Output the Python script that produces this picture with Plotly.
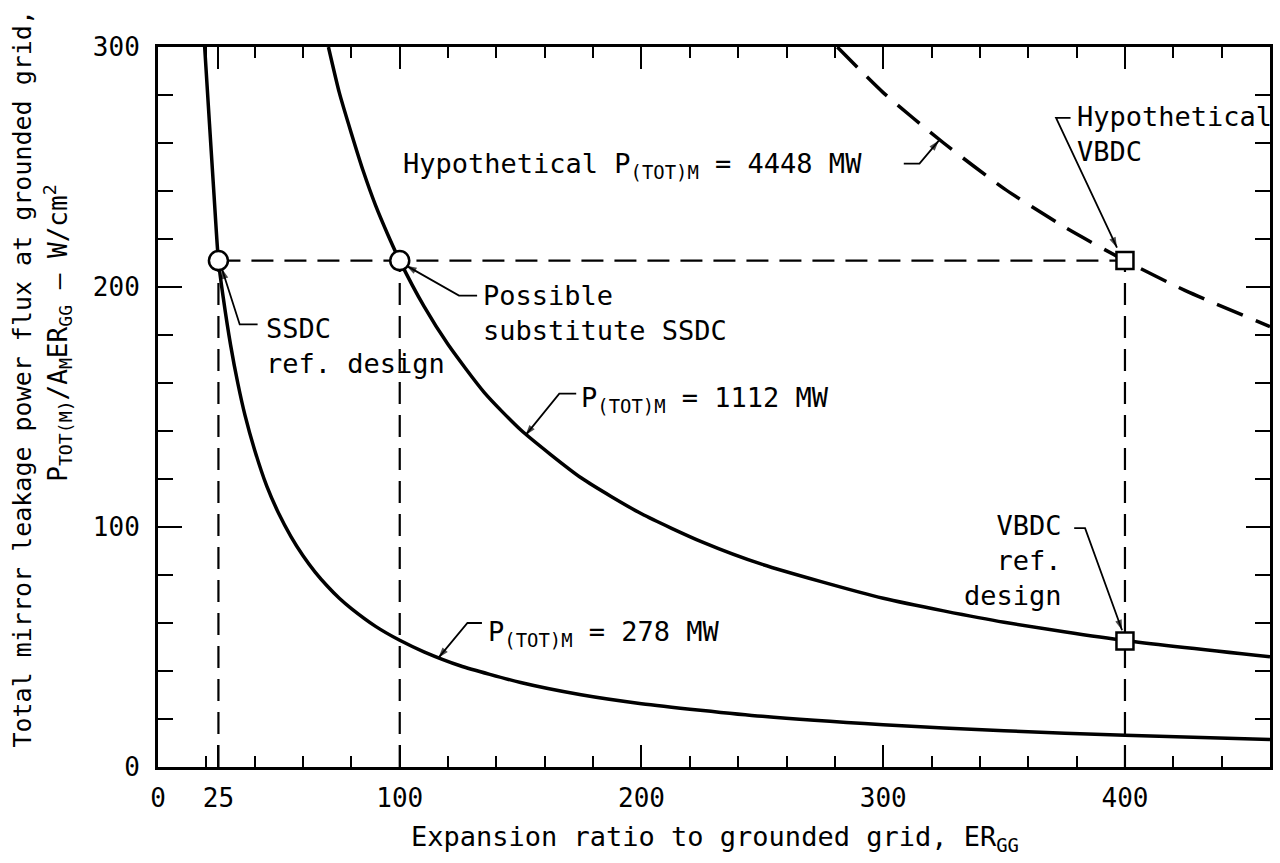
import plotly.graph_objects as go

# ---------------- data ----------------
# P(TOT)M = 278 MW curve
er_278 = [19.3, 21.3, 23.2, 25, 27, 30, 33, 36, 40, 45, 50, 55, 60, 65, 70, 75, 80, 90,
          100, 110, 125, 150, 175, 200, 250, 300, 350, 400, 460]
flux_278 = [300, 268, 238, 211, 195.5, 176, 160, 146.5, 132, 117, 105.5, 96, 88, 81.2,
            75.4, 70.3, 66, 58.6, 52.8, 48, 42.2, 35.2, 30.1, 26.4, 21.1, 17.6, 15.1,
            13.2, 11.5]

# P(TOT)M = 1112 MW curve
er_1112 = [70.5, 75, 80, 85, 90, 95, 100, 110, 120, 135, 150, 175, 200, 225, 250, 300,
           350, 400, 460]
flux_1112 = [300, 281, 264, 248, 234, 222, 211, 192, 176, 156, 140.5, 120.5, 105.5, 93.8,
             84.4, 70.3, 60.3, 52.7, 45.9]

# Hypothetical P(TOT)M = 4448 MW curve
er_4448 = [281, 300, 325, 350, 375, 400, 425, 460]
flux_4448 = [300, 281, 260, 241, 225, 211, 198.5, 183.5]

# design points
design_flux = 211
ssdc_er = [25, 100]
ssdc_flux = [211, 211]
vbdc_er = [400, 400]
vbdc_flux = [211, 52.5]

x_tickvals = [0, 25, 100, 200, 300, 400]
x_ticktext = ["0", "25", "100", "200", "300", "400"]
y_tickvals = [0, 100, 200, 300]
y_ticktext = ["0", "100", "200", "300"]

FONT = "DejaVu Sans Mono"
BLACK = "black"

fig = go.Figure()

# dashed reference lines
fig.add_trace(go.Scatter(
    x=[ssdc_er[0], vbdc_er[0]], y=[design_flux, design_flux], mode="lines",
    line=dict(color=BLACK, width=2.2, dash="22px,11px"), hoverinfo="skip"))
vx, vy = [], []
for e in [ssdc_er[0], ssdc_er[1], vbdc_er[0]]:
    vx += [e, e, None]
    vy += [0, design_flux, None]
fig.add_trace(go.Scatter(
    x=vx, y=vy, mode="lines",
    line=dict(color=BLACK, width=2.2, dash="22px,11px"), hoverinfo="skip"))

# curves
fig.add_trace(go.Scatter(x=er_278, y=flux_278, mode="lines",
                         line=dict(color=BLACK, width=3.5, shape="spline", smoothing=0.6)))
fig.add_trace(go.Scatter(x=er_1112, y=flux_1112, mode="lines",
                         line=dict(color=BLACK, width=3.5, shape="spline", smoothing=0.6)))
fig.add_trace(go.Scatter(x=er_4448, y=flux_4448, mode="lines",
                         line=dict(color=BLACK, width=3.5, shape="spline", smoothing=0.6,
                                   dash="28px,14px")))

# leader lines with arrowheads: stub end, corner, arrow tip
leaders = [
    [(41.2, 184.4), (33.8, 184.4), (26.4, 207.7)],
    [(132, 196.4), (124.5, 196.4), (102.7, 208.9)],
    [(173, 155.6), (166, 155.6), (152, 138.2)],
    [(134, 60), (128, 60), (116, 45.5)],
    [(308.5, 251.4), (315, 251.4), (323, 261)],
    [(377.5, 270.5), (371.5, 270.5), (396.7, 216.4)],
    [(379, 99.5), (383.5, 99.5), (398.8, 57)],
]
for pts in leaders:
    fig.add_trace(go.Scatter(
        x=[p[0] for p in pts], y=[p[1] for p in pts], mode="lines+markers",
        line=dict(color=BLACK, width=1.8),
        marker=dict(symbol="arrow", angleref="previous", size=[0, 0, 11], color=BLACK,
                    line=dict(width=0)),
        hoverinfo="skip"))

# markers
fig.add_trace(go.Scatter(x=ssdc_er, y=ssdc_flux, mode="markers",
                         marker=dict(symbol="circle", size=19, color="white",
                                     line=dict(color=BLACK, width=2.5))))
fig.add_trace(go.Scatter(x=vbdc_er, y=vbdc_flux, mode="markers",
                         marker=dict(symbol="square", size=17, color="white",
                                     line=dict(color=BLACK, width=2.5))))

afont = dict(family=FONT, size=27, color=BLACK)

texts = [
    dict(text="SSDC<br>ref. design", x=44, y=175.6, xanchor="left", yanchor="middle", align="left"),
    dict(text="Possible<br>substitute SSDC", x=133.6, y=189, xanchor="left", yanchor="middle", align="left"),
    dict(text="P<sub>(TOT)M</sub> = 1112 MW", x=174, y=153, xanchor="left", yanchor="middle", align="left"),
    dict(text="P<sub>(TOT)M</sub> = 278 MW", x=135.7, y=55.7, xanchor="left", yanchor="middle", align="left"),
    dict(text="Hypothetical P<sub>(TOT)M</sub> = 4448 MW", x=100.6, y=250.5, xanchor="left", yanchor="middle", align="left"),
    dict(text="Hypothetical<br>VBDC", x=379.4, y=263.6, xanchor="left", yanchor="middle", align="left"),
    dict(text="VBDC<br>ref.<br>design", x=374.8, y=86.1, xanchor="right", yanchor="middle", align="right"),
]
for t in texts:
    fig.add_annotation(xref="x", yref="y", showarrow=False, font=afont, **t)

# axis titles
fig.add_annotation(xref="paper", yref="paper", x=0.226, y=-0.072, xanchor="left", yanchor="top",
                   text="Expansion ratio to grounded grid, ER<sub>GG</sub>", showarrow=False,
                   font=dict(family=FONT, size=27, color=BLACK))
fig.add_annotation(xref="paper", yref="paper", x=-0.122, y=0.54, textangle=-90,
                   xanchor="center", yanchor="middle",
                   text="Total mirror leakage power flux at grounded grid,", showarrow=False,
                   font=dict(family=FONT, size=25, color=BLACK))
fig.add_annotation(xref="paper", yref="paper", x=-0.090, y=0.603, textangle=-90,
                   xanchor="center", yanchor="middle",
                   text="P<sub>TOT(M)</sub>/A<sub>M</sub>ER<sub>GG</sub> — W/cm<sup>2</sup>",
                   showarrow=False, font=dict(family=FONT, size=26, color=BLACK))

axis_common = dict(showline=True, linecolor=BLACK, linewidth=3, mirror="ticks",
                   ticks="inside", tickcolor=BLACK, tickwidth=2.2, showgrid=False,
                   zeroline=False, tickfont=dict(family=FONT, size=26, color=BLACK))

fig.update_xaxes(range=[0, 460], tickmode="array", tickvals=x_tickvals, ticktext=x_ticktext,
                 ticklen=22, ticklabelstandoff=6,
                 minor=dict(tickmode="linear", tick0=0, dtick=20, ticks="inside", ticklen=11,
                            tickwidth=2.2, tickcolor=BLACK, showgrid=False),
                 **axis_common)
fig.update_yaxes(range=[0, 300], tickmode="array", tickvals=y_tickvals, ticktext=y_ticktext,
                 ticklen=24, ticklabelstandoff=10,
                 minor=dict(tickmode="linear", tick0=0, dtick=20, ticks="inside", ticklen=15,
                            tickwidth=2.2, tickcolor=BLACK, showgrid=False),
                 **axis_common)

fig.update_layout(width=1280, height=863, margin=dict(l=158, r=7, t=47, b=96),
                  plot_bgcolor="white", paper_bgcolor="white", showlegend=False,
                  font=dict(family=FONT, color=BLACK))

fig.write_html("out.html")
